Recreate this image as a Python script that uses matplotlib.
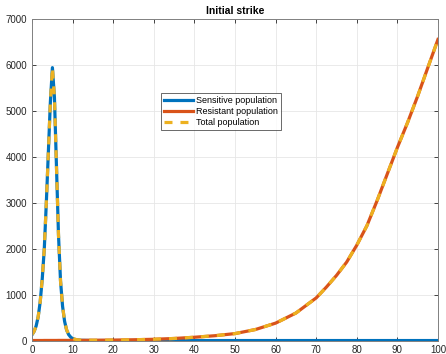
import matplotlib.pyplot as plt
import numpy as np

plt.rcParams['font.family'] = ['Liberation Sans', 'DejaVu Sans']

# time points (shared by all series)
t = [0, 0.5, 1, 1.5, 2, 2.5, 3, 3.5, 4, 4.5, 5, 5.5, 6, 6.5, 7, 7.5, 8, 8.5,
     9, 9.5, 10, 11, 12, 15, 20, 25, 30, 35, 40, 45, 50, 55, 60, 65, 70,
     72.5, 75, 77.5, 80, 82.5, 85, 87.5, 90, 92.5, 95, 97.5, 100]

sensitive = [130, 200, 320, 520, 850, 1350, 2000, 3000, 4100, 5200, 5950,
             5300, 3800, 2300, 1300, 750, 420, 230, 130, 75, 40, 15, 5, 1,
             0, 0, 0, 0, 0, 0, 0, 0, 0, 0, 0,
             0, 0, 0, 0, 0, 0, 0, 0, 0, 0, 0, 0]

resistant = [1, 1, 1, 1, 1, 1, 2, 2, 2, 2, 2, 2, 2, 3, 3, 3, 3, 3,
             3, 4, 4, 4, 5, 6, 10, 17, 28, 45, 72, 105, 152, 240, 380, 600, 930,
             1165, 1420, 1710, 2080, 2505, 3050, 3630, 4209, 4750, 5330, 5950, 6565]

total = np.array(sensitive) + np.array(resistant)

fig = plt.figure(figsize=(4.46, 3.54), dpi=100)
ax = fig.add_axes([0.072, 0.038, 0.910, 0.907])

ax.plot(t, sensitive, color='#0072BD', lw=2.3, label='Sensitive population')
ax.plot(t, resistant, color='#D95319', lw=2.3, label='Resistant population')
ax.plot(t, total, color='#EDB120', lw=2.3, dashes=(2.5, 2.5), label='Total population')

ax.set_xlim(0, 100)
ax.set_ylim(0, 7000)
ax.set_xticks(range(0, 101, 10))
ax.set_yticks(range(0, 7001, 1000))
ax.grid(True, color='#e6e6e6', lw=0.6)
ax.tick_params(direction='in', length=3, labelsize=7, colors='#262626',
               top=True, right=True, width=0.6)
for s in ax.spines.values():
    s.set_color('#808080')
    s.set_linewidth(0.7)

ax.set_title('Initial strike', fontsize=7.5, fontweight='bold', pad=4)

leg = ax.legend(loc='upper left', bbox_to_anchor=(0.318, 0.77), fontsize=6.5,
                frameon=True, fancybox=False, handlelength=3.2, borderpad=0.35,
                labelspacing=0.2, handletextpad=0.3, borderaxespad=0)
leg.get_frame().set_edgecolor('#262626')
leg.get_frame().set_linewidth(0.6)

fig.savefig('out.png', dpi=100)
